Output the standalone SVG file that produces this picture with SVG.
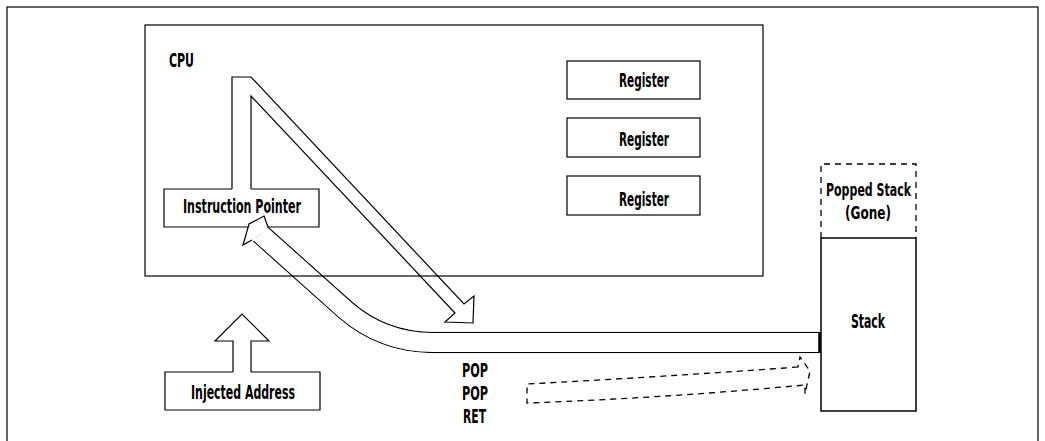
<svg xmlns="http://www.w3.org/2000/svg" xmlns:xlink="http://www.w3.org/1999/xlink" width="1045" height="441" viewBox="0 0 1045 441">
  <style>
    .box { fill: #fff; stroke: #000; stroke-width: 1.2; }
    .edge { fill: none; stroke: #000; stroke-width: 1.2; }
    .dash { fill: none; stroke: #000; stroke-width: 1.3; stroke-dasharray: 6 5; }
    .lbl { font-family: "DejaVu Sans Condensed", "DejaVu Sans", sans-serif; font-size: 20px; font-weight: bold; fill: #000; text-anchor: middle; }
    .sm { font-size: 18px; }
  </style>
  <defs>
    <!-- centre line of the curved return pipe -->
    <path id="pipe" d="M260,233.5 L345,309.6 Q382.7,342.5 433,342.5 L819,342.5"/>
    <mask id="pipeHollow" maskUnits="userSpaceOnUse" x="0" y="0" width="1045" height="441">
      <use xlink:href="#pipe" fill="none" stroke="#fff" stroke-width="21.5"/>
      <use xlink:href="#pipe" fill="none" stroke="#000" stroke-width="19"/>
    </mask>
  </defs>

  <!-- outer frame -->
  <rect x="7" y="7" width="1031" height="440" fill="none" stroke="#000" stroke-width="1.2"/>

  <g id="cpu">
    <rect x="145" y="25" width="618" height="251" class="box"/>
    <text x="181.5" y="67" class="lbl" textLength="25" lengthAdjust="spacingAndGlyphs">CPU</text>
  </g>

  <g id="register1">
    <rect x="567" y="61" width="133" height="38" class="box"/>
    <text x="644" y="87" class="lbl" textLength="50" lengthAdjust="spacingAndGlyphs">Register</text>
  </g>
  <g id="register2">
    <rect x="567" y="118" width="133" height="39" class="box"/>
    <text x="644" y="146" class="lbl" textLength="50" lengthAdjust="spacingAndGlyphs">Register</text>
  </g>
  <g id="register3">
    <rect x="567" y="176" width="133" height="39" class="box"/>
    <text x="644" y="206" class="lbl" textLength="50" lengthAdjust="spacingAndGlyphs">Register</text>
  </g>

  <g id="instruction-pointer">
    <rect x="164" y="189" width="155" height="38" fill="#fff"/>
    <path d="M232,189 H164 V227 H319 V189 H251" class="edge"/>
    <text x="242" y="213" class="lbl" textLength="118" lengthAdjust="spacingAndGlyphs">Instruction Pointer</text>
  </g>

  <g id="injected-address">
    <rect x="165" y="372" width="155" height="38" fill="#fff"/>
    <path d="M233,372 H165 V410 H320 V372 H251" class="edge"/>
    <text x="243" y="399" class="lbl" textLength="104" lengthAdjust="spacingAndGlyphs">Injected Address</text>
  </g>

  <g id="popped-stack">
    <path d="M821,238 V164 H916 V238" class="dash"/>
    <text x="868.5" y="196" class="lbl sm" textLength="85" lengthAdjust="spacingAndGlyphs">Popped Stack</text>
    <text x="868" y="219" class="lbl sm" textLength="46" lengthAdjust="spacingAndGlyphs">(Gone)</text>
  </g>

  <g id="stack">
    <rect x="821" y="238" width="95" height="173" fill="#fff" stroke="#000" stroke-width="1.5"/>
    <text x="868" y="328" class="lbl" textLength="34" lengthAdjust="spacingAndGlyphs">Stack</text>
  </g>

  <g id="pop-pop-ret">
    <text x="475" y="377" class="lbl" textLength="26" lengthAdjust="spacingAndGlyphs">POP</text>
    <text x="475" y="400" class="lbl" textLength="26" lengthAdjust="spacingAndGlyphs">POP</text>
    <text x="474.5" y="423" class="lbl" textLength="23" lengthAdjust="spacingAndGlyphs">RET</text>
  </g>

  <g id="connectors">
    <!-- instruction pointer fetch: up, then down to the pipe -->
    <path d="M232,189 V77 H251 L464,304 L474,296 L473,323 L445,322 L455,313 L251,96 V189" class="edge"/>
    <!-- return path from the stack back into the instruction pointer -->
    <use xlink:href="#pipe" fill="none" stroke="#000" stroke-width="21.5" mask="url(#pipeHollow)"/>
    <path d="M268,227 L264,216 L249,224 L243,245 L252,240" fill="#fff" stroke="#000" stroke-width="1.2" stroke-linejoin="miter"/>
    <line x1="819.5" y1="332" x2="819.5" y2="353" stroke="#000" stroke-width="2.5"/>
    <!-- injected address pushed up -->
    <path d="M233,372 V341 H215 L242,314 L269,341 H251 V372" class="edge"/>
    <!-- POP POP RET walk toward the stack -->
    <path d="M798,367 Q660,377 527,384 V403 Q665,398 805,385 L805,394 L810,371 L800,357 Z" class="dash"/>
  </g>
</svg>
